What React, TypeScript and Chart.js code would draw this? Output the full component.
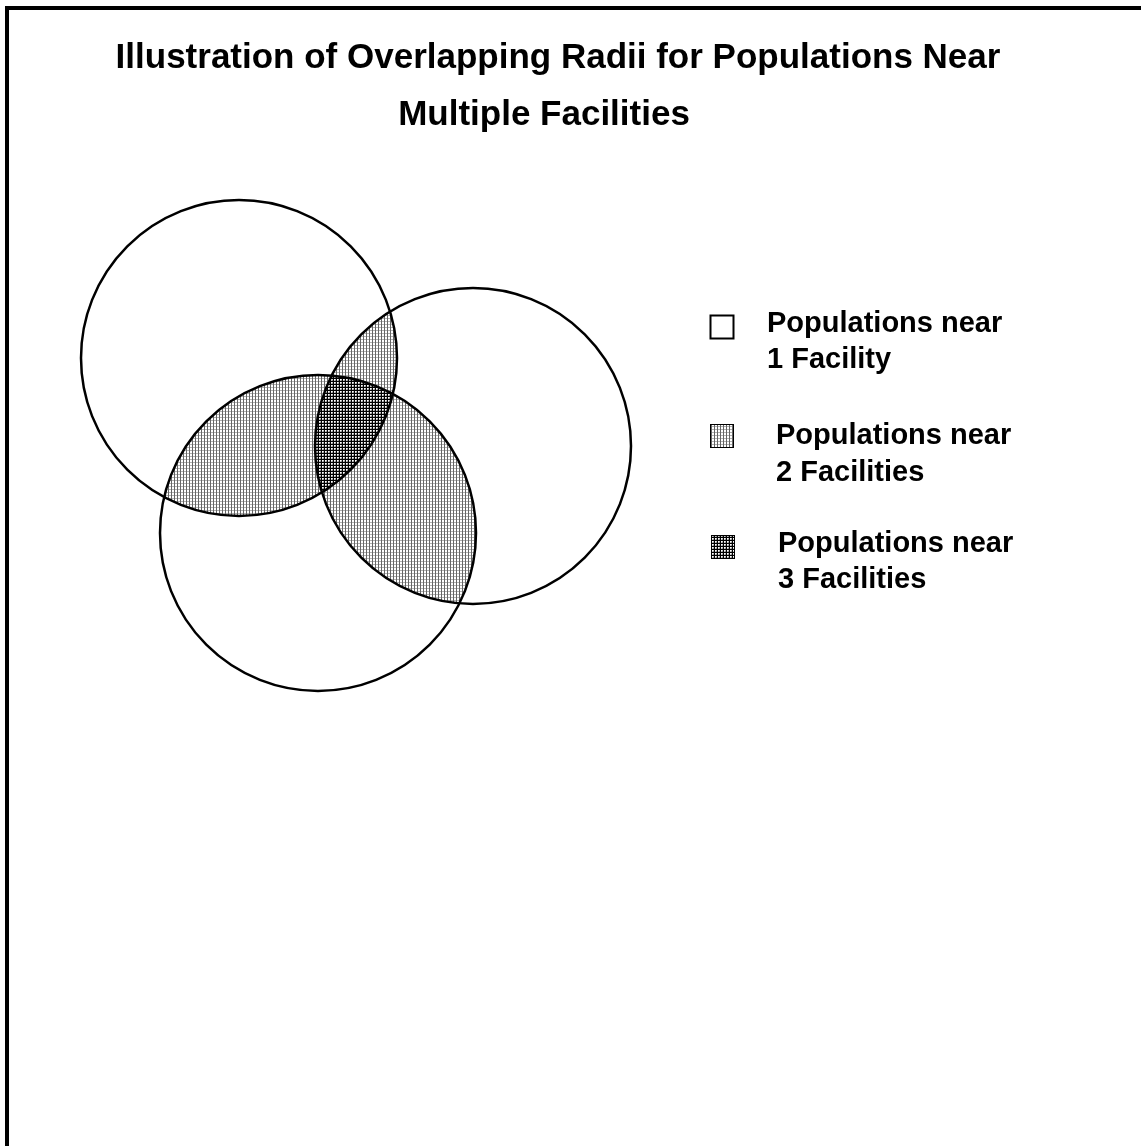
import React, { useEffect, useRef } from "react";
import { Chart, registerables } from "chart.js";

Chart.register(...registerables);

// ---- data ----
const facilityNames = ["Facility A", "Facility B", "Facility C"];
const centerX = [239, 473, 318];
const centerY = [358, 446, 533];
const radiusVal = [158, 158, 158];

const titleLines = [
  "Illustration of Overlapping Radii for Populations Near",
  "Multiple Facilities",
];
const legendLine1 = ["Populations near", "Populations near", "Populations near"];
const legendLine2 = ["1 Facility", "2 Facilities", "3 Facilities"];
const overlapCounts = [1, 2, 3];

const W = 1141;
const H = 1146;

function makePattern(kind: "light" | "dark"): CanvasPattern | string {
  const c = document.createElement("canvas");
  c.width = 3;
  c.height = 3;
  const g = c.getContext("2d");
  if (!g) return kind === "light" ? "#bbb" : "#555";
  const light = [
    ["#666", "#b0b0b0", "#b0b0b0"],
    ["#666", "#fff", "#fff"],
    ["#666", "#fff", "#fff"],
  ];
  const dark = [
    ["#000", "#000", "#000"],
    ["#000", "#fff", "#c8c8c8"],
    ["#000", "#c8c8c8", "#888"],
  ];
  const t = kind === "light" ? light : dark;
  for (let y = 0; y < 3; y++)
    for (let x = 0; x < 3; x++) {
      g.fillStyle = t[y][x];
      g.fillRect(x, y, 1, 1);
    }
  const p = g.createPattern(c, "repeat");
  return p || (kind === "light" ? "#bbb" : "#555");
}

export default function App() {
  const ref = useRef<HTMLCanvasElement | null>(null);

  useEffect(() => {
    if (!ref.current) return;
    const lightPat = makePattern("light");
    const darkPat = makePattern("dark");

    const venn = {
      id: "venn",
      afterDatasetsDraw(chart: any) {
        const ctx: CanvasRenderingContext2D = chart.ctx;
        const xs = chart.scales.x;
        const ys = chart.scales.y;
        const circles = centerX.map((cx, i) => {
          const px = xs.getPixelForValue(cx);
          const py = ys.getPixelForValue(centerY[i]);
          const pr = Math.abs(xs.getPixelForValue(cx + radiusVal[i]) - px);
          return { px, py, pr };
        });
        const path = (c: { px: number; py: number; pr: number }) => {
          ctx.beginPath();
          ctx.arc(c.px, c.py, c.pr, 0, Math.PI * 2);
          ctx.closePath();
        };

        ctx.save();
        // frame
        ctx.fillStyle = "#000";
        ctx.fillRect(5, 6, W - 5, 4);
        ctx.fillRect(5, 6, 4, H - 6);

        // pairwise overlaps
        for (let i = 0; i < circles.length; i++) {
          for (let j = i + 1; j < circles.length; j++) {
            ctx.save();
            path(circles[i]);
            ctx.clip();
            path(circles[j]);
            ctx.fillStyle = lightPat as any;
            ctx.fill();
            ctx.restore();
          }
        }
        // triple overlap
        ctx.save();
        path(circles[0]);
        ctx.clip();
        path(circles[1]);
        ctx.clip();
        path(circles[2]);
        ctx.fillStyle = darkPat as any;
        ctx.fill();
        ctx.restore();

        // outlines
        ctx.strokeStyle = "#000";
        ctx.lineWidth = 2.5;
        circles.forEach((c) => {
          path(c);
          ctx.stroke();
        });

        // title
        ctx.fillStyle = "#000";
        ctx.font = "bold 35px 'Liberation Sans', Arial, sans-serif";
        ctx.textAlign = "center";
        ctx.textBaseline = "alphabetic";
        ctx.fillText(titleLines[0], 558, 68);
        ctx.fillText(titleLines[1], 544, 125);

        // legend
        const boxX = [710, 710, 711];
        const boxY = [315, 424, 535];
        const textX = [767, 776, 778];
        const base1 = [332, 444, 552];
        const base2 = [368, 481, 588];
        ctx.font = "bold 29px 'Liberation Sans', Arial, sans-serif";
        ctx.textAlign = "left";
        overlapCounts.forEach((n, k) => {
          const fill = n === 1 ? "#fff" : n === 2 ? lightPat : darkPat;
          ctx.fillStyle = fill as any;
          ctx.fillRect(boxX[k], boxY[k], 24, 24);
          ctx.strokeStyle = "#000";
          ctx.lineWidth = n === 1 ? 2 : 1;
          ctx.strokeRect(boxX[k] + 0.5, boxY[k] + 0.5, 23, 23);
          ctx.fillStyle = "#000";
          ctx.fillText(legendLine1[k], textX[k], base1[k]);
          ctx.fillText(legendLine2[k], textX[k], base2[k]);
        });
        ctx.restore();
      },
    };

    const chart = new Chart(ref.current, {
      type: "scatter",
      data: {
        datasets: [
          {
            label: "Facilities",
            data: centerX.map((x, i) => ({ x, y: centerY[i] })),
            pointRadius: 0,
            pointHoverRadius: 0,
          },
        ],
      },
      options: {
        responsive: false,
        animation: false,
        devicePixelRatio: 1,
        layout: { padding: 0 },
        events: [],
        plugins: {
          legend: { display: false },
          title: { display: false },
          tooltip: { enabled: false },
        },
        scales: {
          x: { type: "linear", min: 0, max: W, display: false },
          y: { type: "linear", min: 0, max: H, reverse: true, display: false },
        },
      },
      plugins: [venn],
    });
    return () => chart.destroy();
  }, []);

  return (
    <div style={{ position: "fixed", left: 0, top: 0, width: W, height: H, background: "#fff" }}>
      <canvas ref={ref} width={W} height={H} style={{ display: "block" }} aria-label={facilityNames.join(", ")} />
    </div>
  );
}
